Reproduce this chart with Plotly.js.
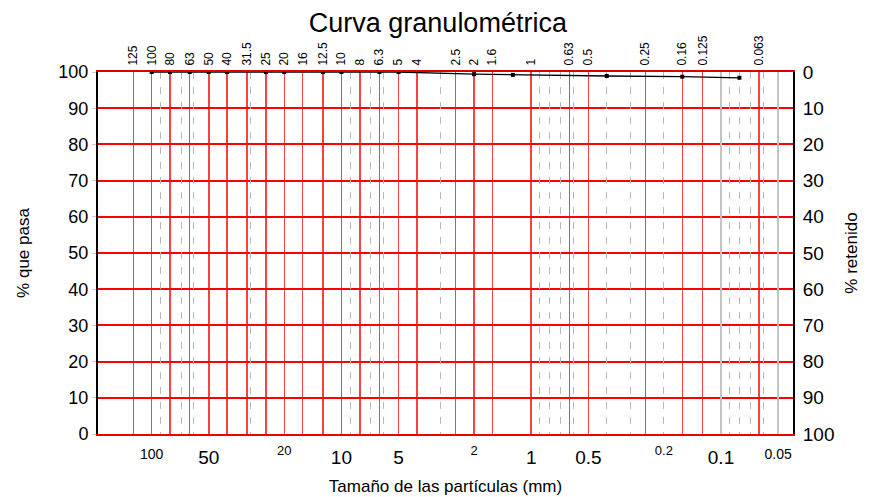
<!DOCTYPE html>
<html>
<head>
<meta charset="utf-8">
<script src="https://cdn.plot.ly/plotly-3.0.1.min.js"></script>
<style>html,body{margin:0;padding:0;background:#fff;}#chart{width:869px;height:497px;}</style>
</head>
<body>
<div id="chart"></div>
<script>
// ---- data ----
const sieveSizes = [125, 100, 80, 63, 50, 40, 31.5, 25, 20, 16, 12.5, 10, 8, 6.3, 5, 4, 2.5, 2, 1.6, 1, 0.63, 0.5, 0.25, 0.16, 0.125, 0.063];
const sieveLabels = ["125", "100", "80", "63", "50", "40", "31.5", "25", "20", "16", "12.5", "10", "8", "6.3", "5", "4", "2.5", "2", "1.6", "1", "0.63", "0.5", "0.25", "0.16", "0.125", "0.063"];
const sampleSizes = [100, 80, 63, 50, 40, 25, 20, 12.5, 10, 6.3, 5, 2, 1.25, 0.4, 0.16, 0.08];
const passingPct = [100, 100, 100, 100, 100, 100, 100, 100, 100, 100, 100, 99.4, 99.2, 98.9, 98.7, 98.4];
const bigTickVals = [50, 10, 5, 1, 0.5, 0.1];
const bigTickText = ["50", "10", "5", "1", "0.5", "0.1"];
const smallTickValsA = [100, 0.05];
const smallTickTextA = ["100", "0.05"];
const smallTickValsB = [20, 2, 0.2];
const smallTickTextB = ["20", "2", "0.2"];
const solidGridVals = [0.1, 0.05];
const dashedGridVals = [90, 70, 60, 30, 9, 7, 6, 3, 0.9, 0.8, 0.7, 0.6, 0.4, 0.3, 0.2, 0.09, 0.08, 0.07, 0.06];
const passTicks = [0, 10, 20, 30, 40, 50, 60, 70, 80, 90, 100];
const retainedTicks = [0, 10, 20, 30, 40, 50, 60, 70, 80, 90, 100];

// ---- layout ----
const FONT = "Liberation Sans, Arial, Helvetica, sans-serif";
const xRange = [Math.log10(191.7), Math.log10(0.04175)];

function baseX(extra) {
  return Object.assign({
    type: 'log', range: xRange, overlaying: 'x', anchor: 'y',
    showline: false, zeroline: false, fixedrange: true,
    ticks: '', showticklabels: false, showgrid: false, tickmode: 'array'
  }, extra);
}

const traces = [
  {x: [], y: [], xaxis: 'x2', yaxis: 'y', hoverinfo: 'skip', showlegend: false, mode: 'markers'},
  {x: [], y: [], xaxis: 'x3', yaxis: 'y', hoverinfo: 'skip', showlegend: false, mode: 'markers'},
  {x: [], y: [], xaxis: 'x4', yaxis: 'y', hoverinfo: 'skip', showlegend: false, mode: 'markers'},
  {x: [], y: [], xaxis: 'x5', yaxis: 'y', hoverinfo: 'skip', showlegend: false, mode: 'markers'},
  {x: [], y: [], xaxis: 'x6', yaxis: 'y', hoverinfo: 'skip', showlegend: false, mode: 'markers'},
  {x: [], y: [], xaxis: 'x', yaxis: 'y2', hoverinfo: 'skip', showlegend: false, mode: 'markers'},
  {
    x: sampleSizes, y: passingPct, xaxis: 'x', yaxis: 'y',
    mode: 'lines+markers', showlegend: false,
    line: {color: '#000', width: 1.3},
    marker: {color: '#000', size: 4, symbol: 'square'}
  }
];

const layout = {
  width: 869, height: 497,
  margin: {l: 98, r: 76, t: 72, b: 63},
  paper_bgcolor: '#fff', plot_bgcolor: '#fff',
  font: {family: FONT, color: '#000'},
  showlegend: false,
  title: {text: 'Curva granulométrica', font: {size: 27, family: FONT}, x: 0.489, xref: 'paper', xanchor: 'center', y: 0.955, yref: 'container', yanchor: 'middle'},
  // main bottom axis: big labels
  xaxis: {
    type: 'log', range: xRange, fixedrange: true,
    tickmode: 'array', tickvals: bigTickVals, ticktext: bigTickText,
    tickfont: {size: 19, family: FONT}, ticks: 'outside', ticklen: 5, tickcolor: 'rgba(0,0,0,0)',
    showgrid: false, zeroline: false,
    showline: true, linecolor: '#e00', linewidth: 2,
    title: {text: 'Tamaño de las partículas (mm)', font: {size: 17, family: FONT}, standoff: 13}
  },
  // gray solid grid
  xaxis2: baseX({tickvals: solidGridVals, showgrid: true, gridcolor: '#c4c4c4', gridwidth: 1.5}),
  // gray dashed grid
  xaxis3: baseX({tickvals: dashedGridVals, showgrid: true, gridcolor: '#b8b8b8', gridwidth: 1, griddash: '7px,8px'}),
  // top sieve axis with red grid
  xaxis4: baseX({
    side: 'top', tickvals: sieveSizes, ticktext: sieveLabels,
    showticklabels: true, tickangle: -90, tickfont: {size: 12, family: FONT},
    ticks: 'outside', ticklen: 2, tickcolor: 'rgba(0,0,0,0)',
    showgrid: true, gridcolor: 'rgba(255,0,0,0.75)', gridwidth: 1.5,
    showline: true, linecolor: '#d00', linewidth: 2
  }),
  // small bottom labels
  xaxis5: baseX({tickvals: smallTickValsA, ticktext: smallTickTextA, showticklabels: true, tickfont: {size: 14, family: FONT}, ticks: 'outside', ticklen: 7, tickcolor: 'rgba(0,0,0,0)'}),
  xaxis6: baseX({tickvals: smallTickValsB, ticktext: smallTickTextB, showticklabels: true, tickfont: {size: 13, family: FONT}, ticks: 'outside', ticklen: 4, tickcolor: 'rgba(0,0,0,0)'}),
  yaxis: {
    range: [0, 100], fixedrange: true,
    tickmode: 'array', tickvals: passTicks,
    tickfont: {size: 18, family: FONT},
    ticks: 'outside', ticklen: 4, tickcolor: '#ccc',
    showgrid: true, gridcolor: '#ff0000', gridwidth: 2,
    zeroline: false, showline: true, linecolor: '#000', linewidth: 2,
    title: {text: '% que pasa', font: {size: 17, family: FONT}, standoff: 24}
  },
  yaxis2: {
    overlaying: 'y', side: 'right', anchor: 'x',
    range: [100, 0], fixedrange: true,
    tickmode: 'array', tickvals: retainedTicks,
    tickfont: {size: 19, family: FONT},
    ticks: 'outside', ticklen: 4, tickcolor: 'rgba(0,0,0,0)',
    showgrid: false, zeroline: false, showline: true, linecolor: '#000', linewidth: 2,
    title: {text: '% retenido', font: {size: 17, family: FONT}, standoff: 12}
  }
};

Plotly.newPlot('chart', traces, layout, {staticPlot: true, displayModeBar: false});
</script>
</body>
</html>
